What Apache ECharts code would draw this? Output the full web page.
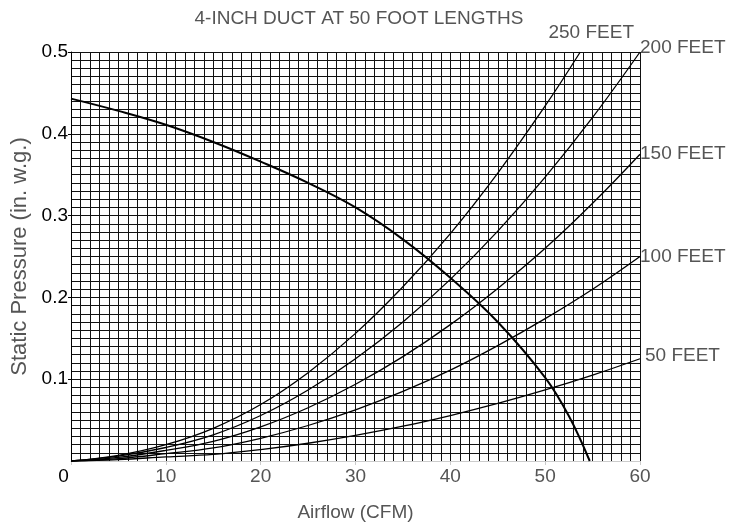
<!DOCTYPE html>
<html>
<head>
<meta charset="utf-8">
<script src="https://cdn.jsdelivr.net/npm/echarts@6/dist/echarts.min.js"></script>
<style>html,body{margin:0;padding:0;background:#fff}#c{width:744px;height:529px}</style>
</head>
<body>
<div id="c"></div>
<script>
// Airflow sample points (CFM)
var cfm = [0, 5, 10, 15, 20, 25, 30, 35, 40, 45, 50, 55, 60];
// Duct resistance curves (in. w.g.)
var duct250 = [0, 0.007, 0.020, 0.040, 0.069, 0.108, 0.156, 0.213, 0.278, 0.352, 0.434];
var duct250EndX = 53.7, duct250EndY = 0.5;
var duct200 = [0, 0.006, 0.0165, 0.032, 0.0556, 0.0868, 0.125, 0.170, 0.222, 0.281, 0.347, 0.420, 0.50];
var duct150 = [0, 0.0045, 0.013, 0.024, 0.0417, 0.0651, 0.0938, 0.1276, 0.1667, 0.211, 0.260, 0.315, 0.375];
var duct100 = [0, 0.003, 0.009, 0.016, 0.0278, 0.0434, 0.0625, 0.085, 0.111, 0.141, 0.174, 0.210, 0.25];
var duct50  = [0, 0.0018, 0.005, 0.008, 0.0139, 0.0217, 0.0313, 0.0425, 0.0556, 0.0703, 0.0868, 0.105, 0.125];
// Fan curve
var fanX = [0, 5, 10, 15, 20, 25, 30, 35, 40, 45, 50, 52.5, 54.7];
var fanY = [0.443, 0.428, 0.411, 0.390, 0.366, 0.340, 0.310, 0.271, 0.224, 0.170, 0.102, 0.055, 0];
// Labels
var title = '4-INCH DUCT AT 50 FOOT LENGTHS';
var xName = 'Airflow (CFM)';
var yName = 'Static Pressure (in. w.g.)';
var names = ['250 FEET', '200 FEET', '150 FEET', '100 FEET', '50 FEET'];

function pairs(xs, ys) { var r = []; for (var i = 0; i < ys.length; i++) r.push([xs[i], ys[i]]); return r; }

var FONT = 'Liberation Sans, Arial, sans-serif';
var d250 = pairs(cfm, duct250); d250.push([duct250EndX, duct250EndY]);
var sets = [d250, pairs(cfm, duct200), pairs(cfm, duct150), pairs(cfm, duct100), pairs(cfm, duct50)];
var labelCfg = [
  {position: 'top', distance: 10, offset: [11, 0]},
  {position: 'right', distance: 0, offset: [0, -4]},
  {position: 'right', distance: 0, offset: [0, 0]},
  {position: 'right', distance: 0, offset: [0, 0]},
  {position: 'right', distance: 5, offset: [0, -3]}
];

var series = sets.map(function (d, i) {
  var last = d[d.length - 1];
  return {
    type: 'line', name: names[i], data: d, smooth: 0.4, showSymbol: false, silent: true,
    lineStyle: {color: '#000', width: 1.3},
    markPoint: {
      symbol: 'circle', symbolSize: 0, silent: true,
      data: [{coord: last}],
      label: Object.assign({show: true, formatter: names[i], color: '#555', fontSize: 19, fontFamily: FONT}, labelCfg[i])
    }
  };
});
series.push({
  type: 'line', name: 'fan', data: pairs(fanX, fanY), smooth: 0.4, showSymbol: false, silent: true,
  lineStyle: {color: '#000', width: 2}
});

var chart = echarts.init(document.getElementById('c'));
chart.setOption({
  animation: false,
  backgroundColor: '#fff',
  title: {text: title, left: 354, textAlign: 'center', top: 4,
    textStyle: {color: '#555', fontSize: 19, fontWeight: 'normal', fontFamily: FONT}},
  grid: {left: 71, right: 104, top: 52, bottom: 68},
  xAxis: {
    type: 'value', min: 0, max: 60, interval: 10,
    name: xName, nameLocation: 'middle', nameGap: 42,
    nameTextStyle: {color: '#555', fontSize: 19, fontFamily: FONT},
    axisLine: {show: true, lineStyle: {color: '#ccc'}},
    axisTick: {show: true, length: 4, lineStyle: {color: '#ccc'}},
    axisLabel: {color: '#555', fontSize: 19, fontFamily: FONT, margin: 6,
      formatter: function (v) { return v === 0 ? '{o|0}' : String(v); },
      rich: {o: {color: '#000', fontSize: 19, fontFamily: FONT, padding: [0, 15, 4, 0]}}},
    splitLine: {show: true, lineStyle: {color: '#111', width: 1}},
    minorTick: {show: false, splitNumber: 10},
    minorSplitLine: {show: true, lineStyle: {color: '#111', width: 1}}
  },
  yAxis: {
    type: 'value', min: 0, max: 0.5, interval: 0.1,
    name: yName, nameLocation: 'middle', nameGap: 38,
    nameTextStyle: {color: '#555', fontSize: 22, fontFamily: FONT},
    axisLine: {show: true, lineStyle: {color: '#000'}},
    axisTick: {show: true, length: 3, lineStyle: {color: '#000'}},
    axisLabel: {color: '#000', fontSize: 19, fontFamily: FONT, margin: 3, showMinLabel: false,
      formatter: function (v) { return v === 0 ? '' : String(Math.round(v * 10) / 10); }},
    splitLine: {show: true, lineStyle: {color: '#111', width: 1}},
    minorTick: {show: false, splitNumber: 10},
    minorSplitLine: {show: true, lineStyle: {color: '#111', width: 1}}
  },
  series: series
});
</script>
</body>
</html>
